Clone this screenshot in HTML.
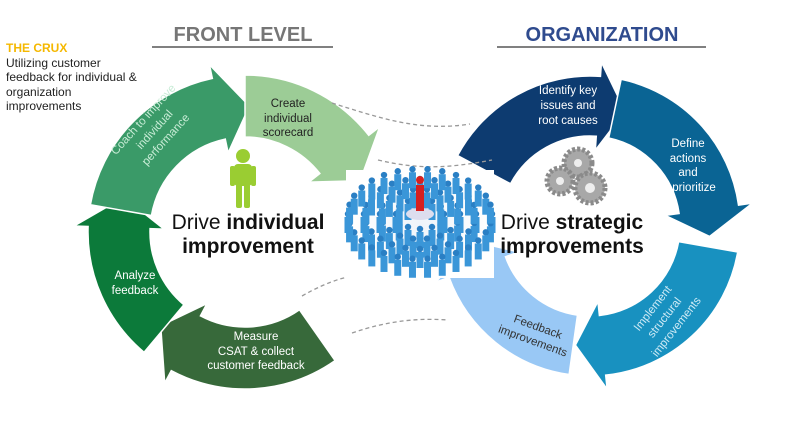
<!DOCTYPE html>
<html><head><meta charset="utf-8"><style>
body{margin:0;background:#fff;width:785px;height:420px;overflow:hidden;font-family:"Liberation Sans",sans-serif}
</style></head><body>
<svg id="s" width="785" height="420" viewBox="0 0 785 420" xmlns="http://www.w3.org/2000/svg" font-family="Liberation Sans, sans-serif">
<defs>
<radialGradient id="gb" cx="50%" cy="50%" r="50%"><stop offset="0" stop-color="#eef4fa"/><stop offset="1" stop-color="#fff"/></radialGradient>
</defs>
<g id="segs"></g>
<g fill="none" stroke="#999" stroke-width="1.3" stroke-dasharray="4,3">
<path d="M332,103 C380,118 420,132 470,124"/>
<path d="M378,160 C420,170 450,168 492,160"/>
<path d="M302,296 C330,280 350,275 372,273"/>
<path d="M352,333 C390,320 420,318 448,320"/>
</g>
<rect x="346" y="170" width="148" height="108" fill="url(#gb)"/>
<g id="crowd"></g>
<g fill="#9acd32">
<circle cx="243" cy="156" r="7"/>
<rect x="234" y="164" width="18" height="22" rx="4"/>
<rect x="230" y="166" width="5" height="20" rx="2"/>
<rect x="251" y="166" width="5" height="20" rx="2"/>
<rect x="236" y="184" width="6" height="24" rx="2"/>
<rect x="244" y="184" width="6" height="24" rx="2"/>
</g>
<g fill="#a8a8a8" stroke="#8a8a8a" stroke-width="1">
<circle cx="578" cy="163" r="14" stroke-dasharray="3,2" stroke-width="5"/>
<circle cx="560" cy="181" r="13" stroke-dasharray="3,2" stroke-width="5"/>
<circle cx="590" cy="188" r="15" stroke-dasharray="3,2" stroke-width="5"/>
</g>
<g fill="#eee"><circle cx="578" cy="163" r="4"/><circle cx="560" cy="181" r="4"/><circle cx="590" cy="188" r="5"/></g>
<text x="243" y="41" text-anchor="middle" font-size="20" font-weight="bold" fill="#767676">FRONT LEVEL</text>
<line x1="152" y1="47" x2="333" y2="47" stroke="#808080" stroke-width="2"/>
<text x="602" y="41" text-anchor="middle" font-size="20" font-weight="bold" fill="#2f4b8e">ORGANIZATION</text>
<line x1="497" y1="47" x2="706" y2="47" stroke="#808080" stroke-width="2"/>
<text x="6" y="52" font-size="12" font-weight="bold" fill="#f5b800">THE CRUX</text>
<g font-size="12" fill="#222"><text x="6" y="67">Utilizing customer</text><text x="6" y="81">feedback for individual &amp;</text><text x="6" y="96">organization</text><text x="6" y="110">improvements</text></g>
<text x="248" y="229" text-anchor="middle" font-size="21" fill="#111">Drive <tspan font-weight="bold">individual</tspan></text>
<text x="248" y="253" text-anchor="middle" font-size="21" font-weight="bold" fill="#111">improvement</text>
<text x="572" y="229" text-anchor="middle" font-size="21" fill="#111">Drive <tspan font-weight="bold">strategic</tspan></text>
<text x="572" y="253" text-anchor="middle" font-size="21" font-weight="bold" fill="#111">improvements</text>
<g font-size="11.5" text-anchor="middle">
<g fill="#222"><text x="288" y="107">Create</text><text x="288" y="122">individual</text><text x="288" y="136">scorecard</text></g>
<g fill="#fff"><text x="135" y="279">Analyze</text><text x="135" y="294">feedback</text></g>
<g fill="#fff"><text x="256" y="340">Measure</text><text x="256" y="355">CSAT &amp; collect</text><text x="256" y="369">customer feedback</text></g>
<g fill="#c8ecd6" transform="translate(155,130) rotate(-48)"><text x="0" y="-12">Coach to improve</text><text x="0" y="3">individual</text><text x="0" y="18">performance</text></g>
<g fill="#fff"><text x="568" y="94">Identify key</text><text x="568" y="109">issues and</text><text x="568" y="124">root causes</text></g>
<g fill="#fff"><text x="688" y="147">Define</text><text x="688" y="162">actions</text><text x="688" y="176">and</text><text x="694" y="191">prioritize</text></g>
<g fill="#cdeaf5" transform="translate(665,318) rotate(-52)"><text x="0" y="-12">Implement</text><text x="0" y="3">structural</text><text x="0" y="18">improvements</text></g>
<g fill="#333" transform="translate(535,335) rotate(20)"><text x="0" y="-5">Feedback</text><text x="0" y="10">improvements</text></g>
</g>
</svg>
<script>
var NS="http://www.w3.org/2000/svg",g=document.getElementById('segs');
function P(cx,cy,r,a){a=a*Math.PI/180;return [cx+r*Math.cos(a),cy+r*Math.sin(a)];}
function seg(cx,cy,R,r,a0,a1,col,hl){
 var m=(R+r)/2,w=14;
 var p1=P(cx,cy,R,a0),p2=P(cx,cy,R,a1),p3=P(cx,cy,r,a1),p4=P(cx,cy,r,a0);
 var b1=P(cx,cy,R+w,a1),b2=P(cx,cy,r-w,a1),t=P(cx,cy,m,a1+hl);
 var lg=(a1-a0)>180?1:0;
 var d="M"+p1+" A"+R+","+R+" 0 "+lg+" 1 "+p2+" L"+b1+" L"+t+" L"+b2+" L"+p3+" A"+r+","+r+" 0 "+lg+" 0 "+p4+"Z";
 var e=document.createElementNS(NS,'path');e.setAttribute('d',d);e.setAttribute('fill',col);e.setAttribute('stroke','#fff');e.setAttribute('stroke-width','1.5');g.appendChild(e);
}
var L=[245,232,157,95];
seg(L[0],L[1],L[2],L[3],55,118,'#37693a',14);
seg(L[0],L[1],L[2],L[3],130,182,'#0c7a3a',14);
seg(L[0],L[1],L[2],L[3],190,258,'#3a9a68',14);
seg(L[0],L[1],L[2],L[3],270,322,'#9ccc96',14);
var Rr=[590,226,150,90];
seg(Rr[0],Rr[1],Rr[2],Rr[3],208,274,'#0d3b70',13);
seg(Rr[0],Rr[1],Rr[2],Rr[3],282,352,'#0a6494',13);
seg(Rr[0],Rr[1],Rr[2],Rr[3],10,84,'#1891c0',13);
seg(Rr[0],Rr[1],Rr[2],Rr[3],98,160,'#99c8f5',13);
var c=document.getElementById('crowd');
for(var ring=0;ring<4;ring++){var rx=24+ring*16,ry=15+ring*10,n=12+ring*6;
 for(var i=0;i<n;i++){var a=i/n*Math.PI*2,x=420+rx*Math.cos(a),y=222+ry*Math.sin(a);
  var h=document.createElementNS(NS,'circle');h.setAttribute('cx',x);h.setAttribute('cy',y-8);h.setAttribute('r',3.2);h.setAttribute('fill','#2a7fc4');c.appendChild(h);
  var b=document.createElementNS(NS,'rect');b.setAttribute('x',x-3.5);b.setAttribute('y',y-5);b.setAttribute('width',7);b.setAttribute('height',16);b.setAttribute('fill','#3a96d8');c.appendChild(b);}}
var s=document.createElementNS(NS,'ellipse');s.setAttribute('cx',420);s.setAttribute('cy',214);s.setAttribute('rx',14);s.setAttribute('ry',6);s.setAttribute('fill','#dde');c.appendChild(s);
var rh=document.createElementNS(NS,'circle');rh.setAttribute('cx',420);rh.setAttribute('cy',180);rh.setAttribute('r',4);rh.setAttribute('fill','#d62020');c.appendChild(rh);
var rb=document.createElementNS(NS,'rect');rb.setAttribute('x',416);rb.setAttribute('y',185);rb.setAttribute('width',8);rb.setAttribute('height',26);rb.setAttribute('fill','#d62020');c.appendChild(rb);
</script>
</body></html>
